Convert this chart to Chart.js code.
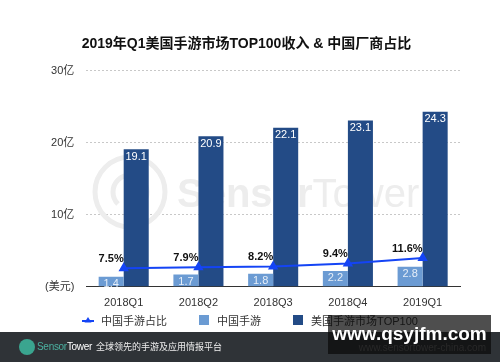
<!DOCTYPE html>
<html>
<head>
<meta charset="utf-8">
<script src="https://cdn.jsdelivr.net/npm/chart.js@4"></script>
<style>
  body { margin: 0; background: #fff; }
  #wrap { position: relative; width: 500px; height: 362px; overflow: hidden;
          font-family: 'Liberation Sans', 'Noto Sans CJK SC', sans-serif; }
  #box { position: absolute; left: 0; top: 0; width: 500px; height: 332px; }
  #legend { position: absolute; left: 0; top: 312px; width: 500px; height: 16px; display: flex;
            justify-content: center; align-items: center; font-size: 11px; color: #333; }
  #legend .item { display: flex; align-items: center; margin: 0 16px; }
  #legend .sw { display: inline-block; width: 10px; height: 10px; margin-right: 8px; }
  #legend canvas { margin-right: 7px; }
  #band { position: absolute; left: 0; top: 332px; width: 500px; height: 30px; background: #2f3337; color: #fff; }
  #logo { position: absolute; left: 19px; top: 7px; width: 16px; height: 16px; border-radius: 50%; background: #3aa58f; }
  #brand { position: absolute; left: 37px; top: 9px; font-size: 10px; letter-spacing: -0.3px; }
  #brand b { color: #4bb0a0; font-weight: normal; }
  #slogan { position: absolute; left: 96px; top: 9px; font-size: 9px; color: #eee; font-family: 'Noto Sans CJK SC', sans-serif; line-height: 12px; }
  #site { position: absolute; right: 14px; top: 10px; font-size: 10px; color: #777; }
  #mark { position: absolute; left: 328px; top: 315px; width: 163px; height: 39px; background: rgba(10,10,10,0.72);
          color: #fff; font: bold 19px 'Liberation Sans', sans-serif; text-align: center; line-height: 38px; }
</style>
</head>
<body>
<div id="wrap">
  <div id="box"><canvas id="chart"></canvas></div>
  <div id="legend"></div>
  <div id="band">
    <div id="logo"></div>
    <div id="brand"><b>Sensor</b>Tower</div>
    <div id="slogan">全球领先的手游及应用情报平台</div>
    <div id="site">www.sensortower-china.com</div>
  </div>
  <div id="mark">www.qsyjfm.com</div>
</div>
<script>
// 数据
const quarters = ['2018Q1', '2018Q2', '2018Q3', '2018Q4', '2019Q1'];
const chinaRevenue = [1.4, 1.7, 1.8, 2.2, 2.8];
const usTop100 = [19.1, 20.9, 22.1, 23.1, 24.3];
const chinaShare = [7.5, 7.9, 8.2, 9.4, 11.6];

const FONT = "'Liberation Sans', 'Noto Sans CJK SC', sans-serif";

// 背景水印
const watermark = {
  id: 'watermark',
  beforeDatasetsDraw(chart) {
    const ctx = chart.ctx;
    ctx.save();
    ctx.strokeStyle = '#ededed';
    ctx.lineWidth = 5;
    ctx.beginPath();
    ctx.arc(130, 192, 35, 0, Math.PI * 2);
    ctx.stroke();
    ctx.beginPath();
    ctx.arc(130, 192, 17, Math.PI * 0.75, Math.PI * 2.25);
    ctx.stroke();
    ctx.beginPath();
    ctx.moveTo(130, 192);
    ctx.lineTo(130, 226);
    ctx.stroke();
    ctx.fillStyle = '#ededed';
    ctx.textBaseline = 'alphabetic';
    ctx.font = 'bold 40px ' + FONT;
    ctx.fillText('Sensor', 177, 207);
    const w = ctx.measureText('Sensor').width;
    ctx.font = '40px ' + FONT;
    ctx.fillText('Tower', 177 + w, 207);
    ctx.restore();
  }
};

// 数值标签
const valueLabels = {
  id: 'valueLabels',
  afterDatasetsDraw(chart) {
    const ctx = chart.ctx;
    ctx.save();
    chart.data.datasets.forEach((ds, i) => {
      const meta = chart.getDatasetMeta(i);
      meta.data.forEach((el, j) => {
        const v = ds.data[j];
        if (ds.type === 'line') {
          ctx.font = 'bold 11px ' + FONT;
          ctx.fillStyle = '#111';
          ctx.textAlign = 'right';
          ctx.textBaseline = 'bottom';
          ctx.fillText(v.toFixed(1) + '%', el.x, el.y - 4);
        } else {
          ctx.font = '11px ' + FONT;
          ctx.fillStyle = i === 1 ? '#e6eef8' : '#fff';
          ctx.textAlign = 'center';
          ctx.textBaseline = 'top';
          ctx.fillText(v.toFixed(1), el.x, el.y + 2);
        }
      });
    });
    ctx.restore();
  }
};

const chart = new Chart(document.getElementById('chart'), {
  type: 'bar',
  data: {
    labels: quarters,
    datasets: [
      {
        type: 'line',
        label: '中国手游占比',
        data: chinaShare,
        yAxisID: 'y2',
        borderColor: '#1444f5',
        backgroundColor: '#1444f5',
        borderWidth: 2,
        pointStyle: 'triangle',
        pointRadius: 4,
        pointHoverRadius: 4,
        order: 0
      },
      {
        label: '中国手游',
        data: chinaRevenue,
        backgroundColor: '#6b9bd3',
        categoryPercentage: 0.67,
        barPercentage: 1,
        order: 1
      },
      {
        label: '美国手游市场TOP100',
        data: usTop100,
        backgroundColor: '#234b86',
        categoryPercentage: 0.67,
        barPercentage: 1,
        order: 1
      }
    ]
  },
  options: {
    responsive: true,
    maintainAspectRatio: false,
    animation: false,
    layout: { padding: { left: 33, right: 40, top: 0, bottom: 20 } },
    scales: {
      x: {
        grid: { display: false },
        border: { display: true, color: '#333', width: 1 },
        ticks: { color: '#333', font: { family: FONT, size: 11 }, padding: 2 }
      },
      y: {
        min: 0,
        max: 30,
        ticks: {
          stepSize: 10,
          color: '#333',
          padding: 12,
          font: { family: FONT, size: 11 },
          callback: v => v === 0 ? '(美元)' : v + '亿'
        },
        grid: { color: '#c8c8c8', drawTicks: false },
        border: { display: false, dash: [2, 2] }
      },
      y2: {
        display: false,
        min: 0,
        max: 87
      }
    },
    plugins: {
      title: {
        display: true,
        text: '2019年Q1美国手游市场TOP100收入 & 中国厂商占比',
        color: '#111',
        font: { family: FONT, size: 14, weight: 'bold' },
        padding: { top: 36, bottom: 18 }
      },
      legend: { display: false },
      tooltip: { enabled: false }
    }
  },
  plugins: [watermark, valueLabels]
});

// 图例
const legendEl = document.getElementById('legend');
chart.data.datasets.forEach(ds => {
  const item = document.createElement('div');
  item.className = 'item';
  if (ds.type === 'line') {
    const c = document.createElement('canvas');
    c.width = 12; c.height = 10;
    const g = c.getContext('2d');
    g.strokeStyle = ds.borderColor; g.fillStyle = ds.borderColor; g.lineWidth = 2;
    g.beginPath(); g.moveTo(0, 6); g.lineTo(12, 6); g.stroke();
    g.beginPath(); g.moveTo(6, 2); g.lineTo(9.5, 7.5); g.lineTo(2.5, 7.5); g.closePath(); g.fill();
    item.appendChild(c);
  } else {
    const sw = document.createElement('span');
    sw.className = 'sw';
    sw.style.background = ds.backgroundColor;
    item.appendChild(sw);
  }
  item.appendChild(document.createTextNode(ds.label));
  legendEl.appendChild(item);
});
</script>
</body>
</html>
